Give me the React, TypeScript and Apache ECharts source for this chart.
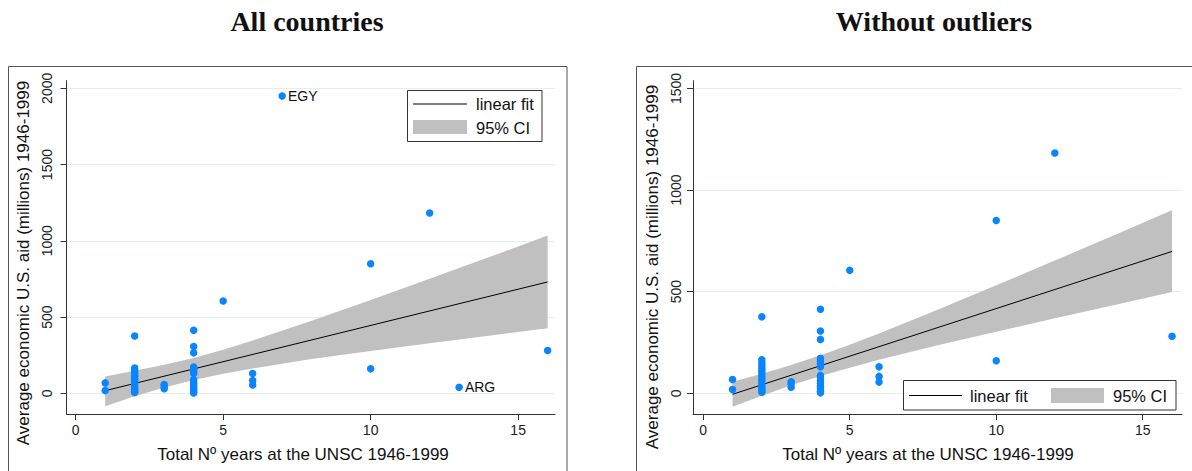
import React, { useEffect, useRef } from "react";
import * as echarts from "echarts";

// ---- data ----
const countryYears = [
  1, 1,
  2, 2, 2, 2, 2, 2, 2, 2, 2, 2, 2, 2, 2, 2, 2,
  3, 3, 3,
  4, 4, 4, 4, 4, 4, 4, 4, 4, 4, 4, 4, 4, 4, 4,
  5,
  6, 6, 6,
  10, 10,
  12,
  16,
];
const countryAid = [
  68, 18,
  376, 165, 148, 135, 122, 110, 97, 85, 72, 60, 48, 36, 25, 14, 5,
  57, 45, 30,
  413, 306, 265, 172, 158, 145, 130, 88, 75, 62, 48, 35, 22, 10, 2,
  605,
  130, 83, 55,
  850, 160,
  1182,
  280,
];
const outlierNames = ["EGY", "ARG"];
const outlierYears = [7, 13];
const outlierAid = [1950, 40];

const fitYears = [1, 16];
const fitAll = [17, 730];
const fitNoOutliers = [-5, 698];

const ciYears = [1, 2, 3, 4, 5, 6, 8, 10, 12, 14, 16];
const ciUpperAll = [110, 148, 187, 232, 286, 346, 475, 612, 751, 892, 1034];
const ciLowerAll = [-85, -19, 38, 87, 128, 163, 224, 277, 328, 377, 426];
const ciUpperOut = [57, 96, 139, 187, 239, 294, 411, 531, 653, 776, 900];
const ciLowerOut = [-66, -12, 39, 85, 126, 165, 236, 303, 369, 433, 498];

const xTicks = [0, 5, 10, 15];
const yTicksAll = [0, 500, 1000, 1500, 2000];
const yTicksOut = [0, 500, 1000, 1500];

const titles = ["All countries", "Without outliers"];
const xTitle = "Total Nº years at the UNSC 1946-1999";
const yTitle = "Average economic U.S. aid (millions) 1946-1999";
const legendFit = "linear fit";
const legendCI = "95% CI";

const SANS = "'Liberation Sans', Arial, sans-serif";
const SERIF = "'Liberation Serif', 'Times New Roman', serif";
const DOT = "#0a84ff";
const BAND = "#c0c0c0";
const GRID = "#e6efef";
const AXIS = "#333";

function bandSeries(idx: number, lower: number[], upper: number[]) {
  return {
    type: "custom",
    xAxisIndex: idx,
    yAxisIndex: idx,
    coordinateSystem: "cartesian2d",
    data: [[ciYears[0], lower[0]]],
    encode: { x: 0, y: 1 },
    silent: true,
    z: 1,
    renderItem: (_params: any, api: any) => {
      const top = ciYears.map((x, i) => api.coord([x, upper[i]]));
      const bot = ciYears.map((x, i) => api.coord([x, lower[i]])).reverse();
      return {
        type: "polygon",
        shape: { points: top.concat(bot) },
        style: { fill: BAND },
      };
    },
  };
}

function xAxisCfg(idx: number, min: number, max: number) {
  return {
    type: "value",
    gridIndex: idx,
    min,
    max,
    axisLine: { show: true, onZero: false, lineStyle: { color: AXIS, width: 1 } },
    axisTick: { show: true, length: 6, customValues: xTicks, lineStyle: { color: AXIS } },
    axisLabel: {
      customValues: xTicks,
      margin: 9,
      fontFamily: SANS,
      fontSize: 14,
      color: "#222",
      formatter: (v: number) => String(v),
    },
    splitLine: { show: false },
  };
}

function yAxisCfg(idx: number, min: number, max: number, ticks: number[], margin: number) {
  return {
    type: "value",
    gridIndex: idx,
    min,
    max,
    axisLine: { show: true, onZero: false, lineStyle: { color: AXIS, width: 1 } },
    axisTick: { show: true, length: 6, customValues: ticks, lineStyle: { color: AXIS } },
    axisLabel: {
      customValues: ticks,
      rotate: 90,
      margin,
      fontFamily: SANS,
      fontSize: 14,
      color: "#222",
      formatter: (v: number) => String(v),
    },
    splitLine: { show: true, lineStyle: { color: GRID, width: 1 } },
  };
}

function legendGraphics(
  box: [number, number, number, number],
  lineX: [number, number],
  lineY: number,
  fitTextX: number,
  fitTextY: number,
  rect: [number, number, number, number],
  ciTextX: number,
  ciTextY: number
) {
  return [
    {
      type: "rect",
      z: 100,
      shape: { x: box[0], y: box[1], width: box[2], height: box[3] },
      style: { fill: "#fff", stroke: "#333", lineWidth: 1 },
    },
    {
      type: "line",
      z: 101,
      shape: { x1: lineX[0], y1: lineY, x2: lineX[1], y2: lineY },
      style: { stroke: "#000", lineWidth: 1 },
    },
    {
      type: "text",
      z: 101,
      x: fitTextX,
      y: fitTextY,
      style: {
        text: legendFit,
        font: `16.5px ${SANS}`,
        fill: "#111",
        textAlign: "left",
        textVerticalAlign: "middle",
      },
    },
    {
      type: "rect",
      z: 101,
      shape: { x: rect[0], y: rect[1], width: rect[2], height: rect[3] },
      style: { fill: BAND },
    },
    {
      type: "text",
      z: 101,
      x: ciTextX,
      y: ciTextY,
      style: {
        text: legendCI,
        font: `16.5px ${SANS}`,
        fill: "#111",
        textAlign: "left",
        textVerticalAlign: "middle",
      },
    },
  ];
}

function textG(text: string, x: number, y: number, font: string, rotation = 0) {
  return {
    type: "text",
    x,
    y,
    rotation,
    style: { text, font, fill: "#111", textAlign: "center", textVerticalAlign: "middle" },
  };
}

export default function App() {
  const ref = useRef<HTMLDivElement>(null);

  useEffect(() => {
    document.body.style.margin = "0";
    if (!ref.current) return;
    const chart = echarts.init(ref.current, undefined, { renderer: "svg" });

    const mainPts = countryYears.map((x, i) => [x, countryAid[i]]);
    const outPts = outlierNames.map((n, i) => ({ name: n, value: [outlierYears[i], outlierAid[i]] }));

    const option: any = {
      animation: false,
      backgroundColor: "#fff",
      grid: [
        { left: 66.5, top: 80.7, width: 488.5, height: 333.3, outerBoundsMode: "none" },
        { left: 693, top: 80.7, width: 489, height: 333.3, outerBoundsMode: "none" },
      ],
      xAxis: [xAxisCfg(0, -0.312, 16.25), xAxisCfg(1, -0.35, 16.34)],
      yAxis: [
        yAxisCfg(0, -136, 2050, yTicksAll, 13),
        yAxisCfg(1, -102, 1538, yTicksOut, 10),
      ],
      series: [
        bandSeries(0, ciLowerAll, ciUpperAll),
        {
          type: "line",
          xAxisIndex: 0,
          yAxisIndex: 0,
          data: fitYears.map((x, i) => [x, fitAll[i]]),
          showSymbol: false,
          symbol: "none",
          lineStyle: { color: "#000", width: 1 },
          silent: true,
          z: 3,
        },
        {
          type: "scatter",
          xAxisIndex: 0,
          yAxisIndex: 0,
          data: mainPts,
          symbolSize: 7.5,
          itemStyle: { color: DOT, opacity: 1 },
          z: 4,
        },
        {
          type: "scatter",
          xAxisIndex: 0,
          yAxisIndex: 0,
          data: outPts,
          symbolSize: 7.5,
          itemStyle: { color: DOT, opacity: 1 },
          label: {
            show: true,
            position: "right",
            distance: 2,
            formatter: "{b}",
            fontFamily: SANS,
            fontSize: 14,
            color: "#111",
          },
          z: 4,
        },
        bandSeries(1, ciLowerOut, ciUpperOut),
        {
          type: "line",
          xAxisIndex: 1,
          yAxisIndex: 1,
          data: fitYears.map((x, i) => [x, fitNoOutliers[i]]),
          showSymbol: false,
          symbol: "none",
          lineStyle: { color: "#000", width: 1 },
          silent: true,
          z: 3,
        },
        {
          type: "scatter",
          xAxisIndex: 1,
          yAxisIndex: 1,
          data: mainPts,
          symbolSize: 7.5,
          itemStyle: { color: DOT, opacity: 1 },
          z: 4,
        },
      ],
      graphic: [
        {
          type: "rect",
          z: 0,
          shape: { x: 8.5, y: 66.5, width: 558.5, height: 420 },
          style: { fill: "none", stroke: "#555", lineWidth: 1 },
        },
        {
          type: "rect",
          z: 0,
          shape: { x: 636.5, y: 66.5, width: 600, height: 420 },
          style: { fill: "none", stroke: "#555", lineWidth: 1 },
        },
        textG(titles[0], 307, 21, `bold 28px ${SERIF}`),
        textG(titles[1], 934, 21, `bold 28px ${SERIF}`),
        textG(xTitle, 303, 454, `17px ${SANS}`),
        textG(xTitle, 928, 454, `17px ${SANS}`),
        textG(yTitle, 23, 263, `17px ${SANS}`, Math.PI / 2),
        textG(yTitle, 652, 267, `17px ${SANS}`, Math.PI / 2),
        ...legendGraphics(
          [407.5, 90.5, 134.5, 51],
          [413, 467],
          104,
          476,
          104,
          [413, 120, 54, 14],
          476,
          127.5
        ),
        ...legendGraphics(
          [903.5, 380.5, 272.5, 29.5],
          [909, 962],
          395.5,
          970,
          396,
          [1051, 388, 53, 15],
          1113,
          396
        ),
      ],
    };

    chart.setOption(option);
    return () => chart.dispose();
  }, []);

  return <div ref={ref} style={{ width: 1192, height: 471 }} />;
}
